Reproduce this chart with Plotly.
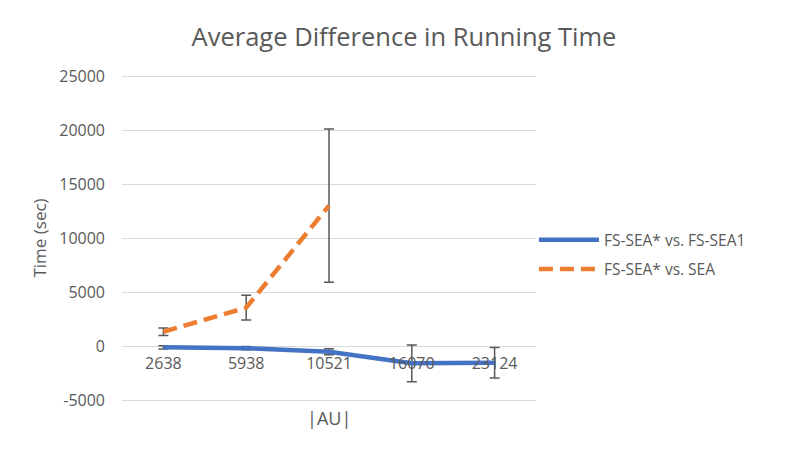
import plotly.graph_objects as go

# data
au_sizes = ["2638", "5938", "10521", "16070", "23124"]

fs_sea1_diff = [-120, -200, -530, -1600, -1550]
fs_sea1_err = [150, 150, 280, 1700, 1420]

sea_diff = [1320, 3550, 13000]
sea_err = [350, 1150, 7100]

y_ticks = [-5000, 0, 5000, 10000, 15000, 20000, 25000]
y_tick_labels = ["-5000", "0", "5000", "10000", "15000", "20000", "25000"]

TEXT_COLOR = "#595959"
GRID_COLOR = "#D9D9D9"
FONT = "Open Sans, Noto Sans, sans-serif"

# the page body adds an 8px offset, so the figure is drawn 8px smaller
W, H = 792, 447

fig = go.Figure()

fig.add_trace(go.Scatter(
    x=au_sizes, y=fs_sea1_diff, mode="lines", name="FS-SEA* vs. FS-SEA1",
    line=dict(color="#4472C4", width=4.5),
    error_y=dict(type="data", array=fs_sea1_err, color=TEXT_COLOR, thickness=1.5, width=5),
    legendgroup="a",
))
fig.add_trace(go.Scatter(
    x=au_sizes[:3], y=sea_diff, mode="lines", name="FS-SEA* vs. SEA",
    line=dict(color="#ED7D31", width=4.5, dash="14px,7px"),
    error_y=dict(type="data", array=sea_err, color=TEXT_COLOR, thickness=1.5, width=5),
    legendgroup="b",
))

# small padding on the range so the edge grid lines are kept
pad = 185
fig.update_layout(
    width=W, height=H,
    margin=dict(l=114, r=264, t=66, b=53),
    paper_bgcolor="white", plot_bgcolor="white",
    font=dict(family=FONT, color=TEXT_COLOR, size=16),
    title=dict(text="Average Difference in Running Time", x=0.5, xanchor="center",
               y=1 - 29 / H, yanchor="middle", font=dict(size=25.5, color=TEXT_COLOR)),
    xaxis=dict(type="category", categoryorder="array", categoryarray=au_sizes,
               anchor="free", position=(5000 + pad) / (30000 + 2 * pad),
               showgrid=False, showline=False, ticks="", ticklabelstandoff=6,
               tickfont=dict(size=16, color=TEXT_COLOR), range=[-0.5, 4.5]),
    yaxis=dict(range=[-5000 - pad, 25000 + pad], tickvals=y_ticks, ticktext=y_tick_labels,
               showgrid=True, gridcolor=GRID_COLOR,
               gridwidth=1.3, zeroline=False, showline=False, ticks="", ticklabelstandoff=16,
               tickfont=dict(size=16, color=TEXT_COLOR),
               title=dict(text="Time (sec)", font=dict(size=17, color=TEXT_COLOR), standoff=8)),
    legend=dict(x=0.995, xanchor="left", y=0.449, yanchor="middle",
                font=dict(size=15.5, color=TEXT_COLOR), tracegroupgap=6,
                itemwidth=60, bgcolor="rgba(0,0,0,0)"),
    annotations=[dict(text="|AU|", xref="paper", yref="paper", x=0.5, y=0,
                      yanchor="top", yshift=-2, showarrow=False,
                      font=dict(size=18, color=TEXT_COLOR))],
)

fig.write_html("out.html")
